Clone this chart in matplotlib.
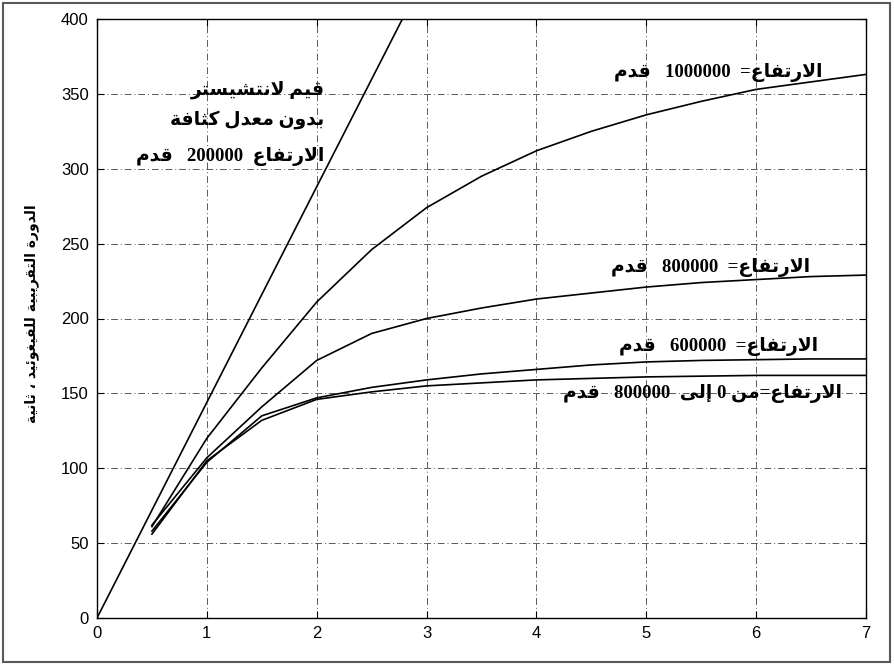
import re
import matplotlib
matplotlib.use("Agg")
import matplotlib.pyplot as plt
from matplotlib.patches import Rectangle

# ---- data ----
lanchester_x = [0.0, 1.0, 2.0, 2.78]
lanchester_y = [0.0, 144.0, 288.0, 400.0]

h_x = [0.5, 1.0, 1.5, 2.0, 2.5, 3.0, 3.5, 4.0, 4.5, 5.0, 5.5, 6.0, 6.5, 7.0]
h1000_y = [61, 120, 167, 211, 246, 274, 295, 312, 325, 336, 345, 353, 358, 363]
h800_y = [62, 107, 141, 172, 190, 200, 207, 213, 217, 221, 224, 226, 228, 229]
h600_y = [58, 104, 135, 147, 154, 159, 163, 166, 169, 171, 172, 172.5, 173, 173]
h0_800_y = [56, 105, 132, 146, 151, 155, 157, 159, 160, 161, 161.5, 162, 162, 162]

x_ticks = [0, 1, 2, 3, 4, 5, 6, 7]
y_ticks = [0, 50, 100, 150, 200, 250, 300, 350, 400]

label_1000 = "الارتفاع=  1000000   قدم"
label_800 = "الارتفاع=  800000   قدم"
label_600 = "الارتفاع=  600000   قدم"
label_0_800 = "الارتفاع=من 0 إلى  800000   قدم"
lanchester_lines = ["قيم لانتشيستر", "بدون معدل كثافة", "الارتفاع  200000   قدم"]
y_label = "الدورة التقريبية للفيغوئيد ، ثانية"


# ---- minimal Arabic shaping (presentation forms) + RTL ordering ----
def _forms(start, n):
    return tuple(chr(start + i) for i in range(n))


FORMS = {
    'ء': _forms(0xFE80, 1), 'آ': _forms(0xFE81, 2), 'أ': _forms(0xFE83, 2),
    'ؤ': _forms(0xFE85, 2), 'إ': _forms(0xFE87, 2), 'ئ': _forms(0xFE89, 4),
    'ا': _forms(0xFE8D, 2), 'ب': _forms(0xFE8F, 4), 'ة': _forms(0xFE93, 2),
    'ت': _forms(0xFE95, 4), 'ث': _forms(0xFE99, 4), 'د': _forms(0xFEA9, 2),
    'ر': _forms(0xFEAD, 2), 'س': _forms(0xFEB1, 4), 'ش': _forms(0xFEB5, 4),
    'ع': _forms(0xFEC9, 4), 'غ': _forms(0xFECD, 4), 'ف': _forms(0xFED1, 4),
    'ق': _forms(0xFED5, 4), 'ك': _forms(0xFED9, 4), 'ل': _forms(0xFEDD, 4),
    'م': _forms(0xFEE1, 4), 'ن': _forms(0xFEE5, 4), 'ه': _forms(0xFEE9, 4),
    'و': _forms(0xFEED, 2), 'ى': _forms(0xFEEF, 2), 'ي': _forms(0xFEF1, 4),
}
LAM_ALEF = {'ا': (0xFEFB, 0xFEFC), 'أ': (0xFEF7, 0xFEF8),
            'إ': (0xFEF9, 0xFEFA), 'آ': (0xFEF5, 0xFEF6)}


def shape(text):
    units = []
    i = 0
    while i < len(text):
        c = text[i]
        if c == 'ل' and i + 1 < len(text) and text[i + 1] in LAM_ALEF:
            units.append(('LA', text[i + 1]))
            i += 2
        else:
            units.append(c)
            i += 1

    def dual(u):
        return isinstance(u, str) and u in FORMS and len(FORMS[u]) == 4

    def joins(u):
        return isinstance(u, tuple) or u in FORMS

    out = []
    for k, u in enumerate(units):
        prev = units[k - 1] if k > 0 else None
        nxt = units[k + 1] if k + 1 < len(units) else None
        jp = prev is not None and dual(prev)
        if isinstance(u, tuple):
            iso, fin = LAM_ALEF[u[1]]
            out.append(chr(fin if jp else iso))
            continue
        if u not in FORMS:
            out.append(u)
            continue
        forms = FORMS[u]
        if len(forms) == 1:
            out.append(forms[0])
            continue
        jn = len(forms) == 4 and nxt is not None and joins(nxt)
        if jp and jn:
            out.append(forms[3])
        elif jp:
            out.append(forms[1])
        elif jn:
            out.append(forms[2])
        else:
            out.append(forms[0])
    return ''.join(out)


def rtl(text):
    parts = re.findall(r'\d+|\D+', shape(text))
    return ''.join(p if p.isdigit() else p[::-1] for p in reversed(parts))


# ---- figure ----
fig = plt.figure(figsize=(8.94, 6.65), dpi=100)
ax = fig.add_axes([97 / 894, 1 - 618 / 665, 769 / 894, 599 / 665])

line_kw = dict(color='black', lw=1.2)
ax.plot(lanchester_x, lanchester_y, **line_kw)
ax.plot(h_x, h1000_y, **line_kw)
ax.plot(h_x, h800_y, **line_kw)
ax.plot(h_x, h600_y, **line_kw)
ax.plot(h_x, h0_800_y, **line_kw)

ax.set_xlim(0, 7)
ax.set_ylim(0, 400)
ax.set_xticks(x_ticks)
ax.set_yticks(y_ticks)
ax.grid(True, color='0.35', lw=0.7, linestyle=(0, (7, 3, 1, 3)))
ax.tick_params(direction='in', top=True, right=True, length=5, width=0.8,
               labelsize=12, pad=6)
for lab in ax.get_xticklabels() + ax.get_yticklabels():
    lab.set_fontfamily('Liberation Sans')
for sp in ax.spines.values():
    sp.set_linewidth(1.0)

txt_kw = dict(family=['Liberation Serif', 'DejaVu Sans'], weight='bold',
              style='normal', fontsize=13.5, ha='right', va='center')
ax.text(6.6, 364, rtl(label_1000), **txt_kw)
ax.text(6.49, 234, rtl(label_800), **txt_kw)
ax.text(6.56, 181, rtl(label_600), **txt_kw)
ax.text(6.78, 150, rtl(label_0_800), **txt_kw)
for yy, s in zip([352.6, 332.6, 308], lanchester_lines):
    ax.text(2.07, yy, rtl(s), **txt_kw)

fig.text(32 / 894, 1 - 314 / 665, rtl(y_label), rotation=90, ha='center',
         va='center', family=['DejaVu Sans'], weight='bold', fontsize=10)

fig.patches.append(Rectangle((3 / 894, 3 / 665), 887 / 894, 659 / 665,
                             transform=fig.transFigure, fill=False,
                             edgecolor='0.35', lw=1.5))

fig.savefig('out.png', dpi=100)
